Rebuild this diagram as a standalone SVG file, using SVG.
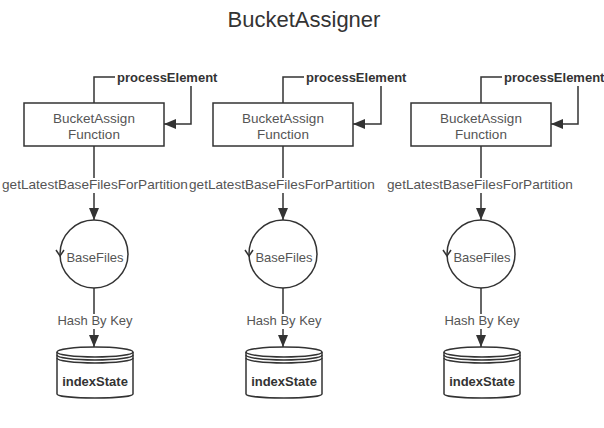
<svg xmlns="http://www.w3.org/2000/svg" width="604" height="428" viewBox="0 0 604 428">
<defs>
<style>
.ln{fill:none;stroke:#333;stroke-width:1.5}
.shape{fill:#fff;stroke:#333;stroke-width:1.5}
.t{font-family:"Liberation Sans",Arial,sans-serif;font-size:13px;fill:#555;text-anchor:middle}
.tb{font-family:"Liberation Sans",Arial,sans-serif;font-size:13px;font-weight:bold;fill:#333}
.bg{fill:#fff}
</style>
<marker id="arr" viewBox="0 0 12 10" refX="12" refY="5" markerWidth="12" markerHeight="10" orient="auto" markerUnits="userSpaceOnUse">
<path d="M0,0 L12,5 L0,10 z" fill="#333"/>
</marker>
</defs>
<rect width="604" height="428" fill="#fff"/>
<text x="304" y="27" font-family="Liberation Sans, Arial, sans-serif" font-size="22" fill="#333" text-anchor="middle">BucketAssigner</text>

<g id="connectors">
<path class="ln" d="M94,103 V77 H191 V124 H164" marker-end="url(#arr)"/>
<path class="ln" d="M94,146 V220" marker-end="url(#arr)"/>
<path class="ln" d="M94,288 V347" marker-end="url(#arr)"/>
<path class="ln" d="M283,103 V77 H381 V124 H353" marker-end="url(#arr)"/>
<path class="ln" d="M283,146 V220" marker-end="url(#arr)"/>
<path class="ln" d="M283,288 V347" marker-end="url(#arr)"/>
<path class="ln" d="M481,103 V77 H578 V124 H551" marker-end="url(#arr)"/>
<path class="ln" d="M481,146 V220" marker-end="url(#arr)"/>
<path class="ln" d="M481,288 V347" marker-end="url(#arr)"/>
<rect class="bg" x="115" y="70" width="104" height="16"/>
<text class="tb" x="117" y="82">processElement</text>
<rect class="bg" x="304" y="70" width="104" height="16"/>
<text class="tb" x="306" y="82">processElement</text>
<rect class="bg" x="502" y="70" width="102" height="16"/>
<text class="tb" x="504" y="82">processElement</text>
<rect class="bg" x="2" y="178" width="186" height="15"/>
<text class="t" x="95" y="189" style="font-size:13.6px">getLatestBaseFilesForPartition</text>
<rect class="bg" x="189" y="178" width="186" height="15"/>
<text class="t" x="282" y="189" style="font-size:13.6px">getLatestBaseFilesForPartition</text>
<rect class="bg" x="387" y="178" width="186" height="15"/>
<text class="t" x="480" y="189" style="font-size:13.6px">getLatestBaseFilesForPartition</text>
<rect class="bg" x="57" y="314" width="76" height="15"/>
<text class="t" x="95" y="325">Hash By Key</text>
<rect class="bg" x="246" y="314" width="76" height="15"/>
<text class="t" x="284" y="325">Hash By Key</text>
<rect class="bg" x="444" y="314" width="76" height="15"/>
<text class="t" x="482" y="325">Hash By Key</text>
</g>

<g id="func1">
<rect class="shape" x="24" y="103" width="140" height="43"/>
<text class="t" x="94" y="123" style="font-size:13.5px">BucketAssign</text>
<text class="t" x="94" y="139" style="font-size:13.5px">Function</text>
</g>
<g id="func2">
<rect class="shape" x="213" y="103" width="140" height="43"/>
<text class="t" x="283" y="123" style="font-size:13.5px">BucketAssign</text>
<text class="t" x="283" y="139" style="font-size:13.5px">Function</text>
</g>
<g id="func3">
<rect class="shape" x="411" y="103" width="140" height="43"/>
<text class="t" x="481" y="123" style="font-size:13.5px">BucketAssign</text>
<text class="t" x="481" y="139" style="font-size:13.5px">Function</text>
</g>

<g id="basefiles1">
<circle class="shape" cx="94" cy="254" r="34"/>
<path class="ln" d="M56,250 L60,256 L64,250"/>
<text class="t" x="95" y="262">BaseFiles</text>
</g>
<g id="basefiles2">
<circle class="shape" cx="283" cy="254" r="34"/>
<path class="ln" d="M245,250 L249,256 L253,250"/>
<text class="t" x="284" y="262">BaseFiles</text>
</g>
<g id="basefiles3">
<circle class="shape" cx="481" cy="254" r="34"/>
<path class="ln" d="M443,250 L447,256 L451,250"/>
<text class="t" x="482" y="262">BaseFiles</text>
</g>

<g id="index1">
<path class="shape" d="M57,352 A38,5 0 0 1 133,352 V394 A38,4 0 0 1 57,394 Z"/>
<path class="ln" d="M57,352 A38,5 0 0 0 133,352 M57,355 A38,5 0 0 0 133,355 M57,358 A38,5 0 0 0 133,358"/>
<text class="tb" x="95" y="386" text-anchor="middle">indexState</text>
</g>
<g id="index2">
<path class="shape" d="M246,352 A38,5 0 0 1 322,352 V394 A38,4 0 0 1 246,394 Z"/>
<path class="ln" d="M246,352 A38,5 0 0 0 322,352 M246,355 A38,5 0 0 0 322,355 M246,358 A38,5 0 0 0 322,358"/>
<text class="tb" x="284" y="386" text-anchor="middle">indexState</text>
</g>
<g id="index3">
<path class="shape" d="M444,352 A38,5 0 0 1 520,352 V394 A38,4 0 0 1 444,394 Z"/>
<path class="ln" d="M444,352 A38,5 0 0 0 520,352 M444,355 A38,5 0 0 0 520,355 M444,358 A38,5 0 0 0 520,358"/>
<text class="tb" x="482" y="386" text-anchor="middle">indexState</text>
</g>
</svg>
